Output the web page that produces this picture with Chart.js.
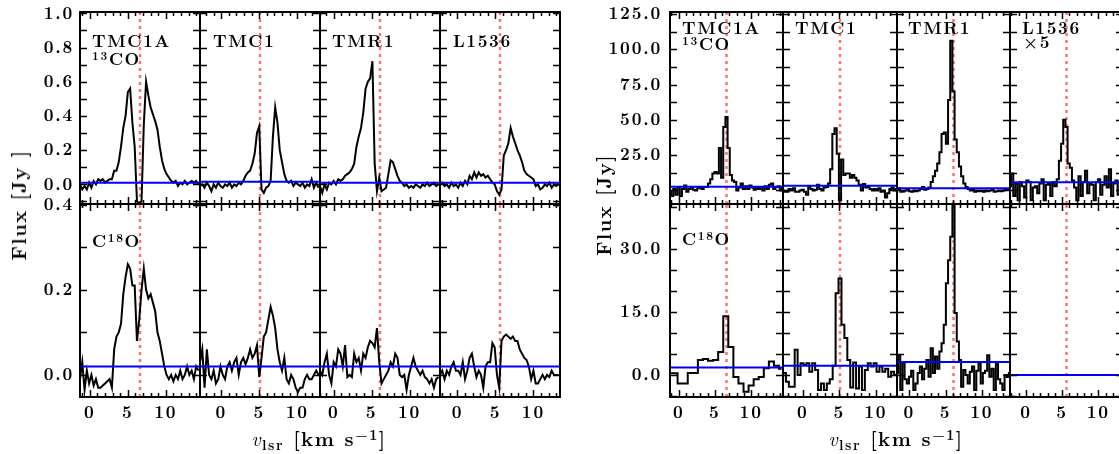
<!DOCTYPE html>
<html>
<head>
<meta charset="utf-8">
<script src="https://cdn.jsdelivr.net/npm/chart.js@4.4.1/dist/chart.umd.min.js"></script>
<style>
  html, body { margin: 0; padding: 0; background: #fff; overflow: hidden; }
  #wrap { position: relative; width: 1119px; height: 454px; overflow: hidden; background: #fff; }
  .cell { position: absolute; }
  .lbl { position: absolute; font-family: 'Latin Modern Roman', 'DejaVu Serif', serif; font-weight: bold; line-height: 1; color: #000; white-space: nowrap; }
  .lbl sup { font-size: 0.7em; line-height: 0; vertical-align: 0.45em; }
  .lbl sub { font-size: 0.7em; line-height: 0; vertical-align: -0.3em; }
  .lbl i { font-weight: normal; }
  .mark { display: inline-block; width: 0; height: 0; vertical-align: baseline; }
  .rot { transform: translate(-50%, -50%) rotate(-90deg); }
  .ctr { transform: translateX(-50%); }
</style>
</head>
<body>
<div id="wrap"></div>
<script>
// sources and systemic velocities (red dotted lines)
const sources = ['TMC1A', 'TMC1', 'TMR1', 'L1536'];
const vlsr = [6.6, 5.1, 6.1, 5.6];
const leftHalfRange = 7.9;
const rightHalfRange = 7.8;

// left panel, 13CO (Jy)
const left13CO_TMC1A = [0.00,-0.03,-0.01,-0.03,0.01,-0.02,0.02,0.00,0.03,0.02,0.03,0.01,0.02,0.03,
  0.03,0.08,0.08,0.13,0.22,0.33,0.40,0.54,0.56,0.36,0.22,-0.10,-0.11,-0.10,0.35,0.60,0.52,0.45,0.41,0.37,0.32,0.22,0.14,0.09,0.06,0.04,0.02,
  0.01,0.02,-0.01,0.01,0.00,0.02,0.00,0.01,0.02,0.01,0.02,0.00];
const left13CO_TMC1 = [-0.01,0.00,-0.02,0.01,-0.01,-0.04,0.00,-0.02,0.01,-0.01,
  -0.02,0.00,-0.01,0.01,-0.02,0.00,-0.01,0.01,0.00,0.02,
  0.05,0.07,0.08,0.12,0.18,0.30,0.34,-0.03,-0.05,-0.02,
  -0.01,0.02,0.28,0.45,0.36,0.20,0.13,0.06,0.02,0.01,
  0.02,-0.01,0.01,0.00,-0.01,0.01,-0.02,0.00,-0.01,0.03,
  -0.02,0.01,-0.02];
const left13CO_TMR1 = [-0.01,-0.05,0.00,-0.03,0.01,0.00,0.02,0.00,0.03,0.02,
  0.03,0.05,0.06,0.07,0.09,0.12,0.22,0.28,0.33,0.42,
  0.56,0.60,0.62,0.72,0.12,-0.04,0.04,-0.04,-0.03,-0.02,
  0.06,0.14,0.13,0.09,0.05,0.02,0.01,-0.01,0.00,-0.02,
  -0.01,-0.02,0.00,-0.01,-0.02,0.00,-0.01,0.01,-0.01,0.00,
  0.01,-0.01,0.00];
const left13CO_L1536 = [0.00,0.01,-0.01,0.00,-0.02,0.01,-0.01,0.00,-0.02,0.01,
  -0.01,0.02,0.00,0.05,0.03,0.07,0.04,0.07,0.05,0.06,
  0.04,0.05,0.03,0.01,0.00,-0.04,-0.06,-0.03,0.17,0.20,
  0.24,0.33,0.28,0.24,0.20,0.17,0.13,0.08,0.06,0.05,
  0.04,0.03,-0.01,0.00,-0.03,-0.02,0.00,-0.01,0.01,-0.02,
  0.00,-0.01,0.00];

// left panel, C18O (Jy)
const leftC18O_TMC1A = [-0.01,0.03,-0.035,0.01,-0.02,0.00,-0.025,-0.01,-0.03,-0.03,
  -0.025,-0.02,-0.015,-0.01,-0.03,0.06,0.09,0.10,0.12,0.19,
  0.23,0.26,0.25,0.21,0.21,0.08,0.13,0.20,0.25,0.20,
  0.18,0.19,0.17,0.15,0.10,0.08,0.05,0.02,0.00,-0.01,
  0.00,-0.015,0.00,-0.01,0.01,-0.01,0.00,0.02,0.00,0.01,
  -0.01,0.02,0.01];
const leftC18O_TMC1 = [0.03,0.06,-0.03,0.06,0.00,-0.01,0.01,-0.02,-0.01,0.02,
  0.00,-0.01,0.02,0.03,0.01,0.03,0.04,0.00,0.03,0.04,
  0.025,0.04,0.06,0.04,0.05,0.07,-0.005,0.04,0.09,0.10,
  0.13,0.16,0.14,0.11,0.06,0.03,0.01,0.04,-0.01,-0.02,
  0.00,-0.01,-0.03,-0.04,-0.03,-0.03,-0.01,0.00,-0.01,-0.01,
  0.00,0.01,0.00];
const leftC18O_TMR1 = [0.01,0.00,0.03,0.05,0.00,-0.02,0.03,0.02,0.06,0.05,
  0.02,0.07,-0.005,0.00,-0.005,0.05,0.03,0.04,0.01,0.05,
  0.04,0.065,0.08,0.075,0.065,0.11,0.03,-0.02,-0.01,0.00,
  0.01,0.03,0.02,0.05,0.04,0.00,-0.005,0.00,-0.035,0.00,
  0.02,0.04,0.02,0.01,0.00,0.01,-0.005,-0.01,-0.02,-0.01,
  -0.03,-0.01,-0.005];
const leftC18O_L1536 = [0.00,0.01,-0.01,0.01,0.00,0.02,0.03,0.01,0.01,0.00,
  0.03,-0.01,0.01,0.04,0.05,0.02,-0.005,0.01,0.00,-0.03,
  0.02,0.03,0.03,0.075,0.065,0.00,-0.03,0.08,0.09,0.095,
  0.09,0.085,0.09,0.08,0.08,0.06,0.05,0.04,0.035,0.02,
  -0.01,0.01,-0.02,-0.02,-0.01,0.00,-0.01,0.00,-0.005,0.01,
  0.00,0.00,0.00];

// right panel, 13CO (Jy)
const right13CO_TMC1A = [-1,-4,1,-3,2.5,-4,1,3.5,-1,1,
  2.5,0.5,0,1.5,2.5,1,2.5,2.5,5,8,
  12,13,12,30,9,45,52,30,11,7,
  6,0,2,5,1,3,1,3.5,2,0.5,
  2,1,2.5,0,3,1,4,5,1,2.5,
  3,0,2];
const right13CO_TMC1 = [0,-1,-1,1,0,1.5,-1,-1,0,0.5,
  -1,-3,2.5,1,0,0.5,4,1,0,2,
  2.5,5,15,40,44,26,-7,22,11,12,
  12,9,11,9,7,4,0,4.5,2,2.5,
  1,0,1,0,1.5,-1,0,-5,-2,1,
  2,0,1];
const right13CO_TMR1 = [1,1.5,-1,-0.8,0,0.5,-0.5,-1,0,-0.5,
  0,1,2.5,0.5,1,2,6,10,14,19,
  27,40,41,33,64,106,70,36,27,17,
  10,5,2.5,1,0,0.5,-1,0,-0.5,0,
  -1,0,-0.5,0,0.5,-1,-0.5,0,-0.5,0,
  0.5,1,0.5];
const right13CO_L1536 = [3,12,-4,5,-7,6,3,-5,7,6,
  -7,2,3,-2,5,8,-7,4,5,-4,
  6,3,8,21,33,50,45,19,16,7,
  2,-7,10,-4,6,14,-2,5,4,-7,
  6,8,-3,4,10,2,15,-4,5,7,
  -3,4,5];

// right panel, C18O (Jy)
const rightC18O_TMC1A = [0.4,0.4,-2,-2,0.5,0.5,3.6,3.8,3.4,3.6,
  5.5,14,6.7,-0.5,-2,-4,-2.5,-1,-0.5,1.6,
  3.2,2.2,1.5];
const rightC18O_TMC1 = [0.5,0.5,-1.6,-2.8,-2.8,6.0,0.0,2.8,2.4,2.8,
  0.8,2.8,1.2,-3.6,-2.0,-3.6,-2.0,-1.0,2.2,19.5,
  23,12,8.8,3.6,-3.0,3.0,-3.2,2.0,-3.6,1.2,
  2.8,2.0,2.8,0.8,2.0,0.8,1.5,-0.4,0.8,0.0,
  0.5];
const rightC18O_TMR1 = [0.5,4.7,-3.6,2.8,-1.0,-2.0,-0.4,1.0,-3.6,-2.0,
  0.5,2.0,-1.0,1.5,3.6,-0.4,6.4,0.5,4.4,1.5,
  5.6,7.6,12.0,21.9,27.4,33,44,14.8,8,3.6,
  -2.8,1.2,0.0,-2.0,0.8,2.0,-3.6,1.0,2.8,-2.0,
  0.5,1.0,4.7,-0.4,1.5,-3.6,2.8,-1.0,-2.0,-3.6,
  0.0,-0.5,0.5];
const rightC18O_L1536 = [];

// channel grids: first channel velocity and channel width (km/s)
const left13COv0 = [-1.3, -2.8, -1.8, -2.3];
const leftC18Ov0 = [-1.3, -2.8, -1.8, -2.3];
const leftDv = [0.3, 0.3, 0.3, 0.3];
const right13COv0 = [-1.2, -2.7, -1.7, -2.2];
const right13CODv = [0.3, 0.3, 0.3, 0.3];
const rightC18Ov0 = [-1.2, -2.9, -1.7, 0];
const rightC18ODv = [0.7, 0.4, 0.3, 0.3];

// fitted baselines (blue lines)
const leftBase13CO = [0.01, 0.015, 0.01, 0.01];
const leftBaseC18O = [0.02, 0.02, 0.02, 0.02];
const rightBase13CO = [2.7, 3.4, 1.5, 5.8];
const rightBaseC18O = [1.8, 2.2, 3.1, 0];

// axes
const xTickVals = [0, 5, 10];
const leftTopY = [-0.115, 1.008];
const leftBotY = [-0.052, 0.402];
const rightTopY = [-9.6, 126.4];
const rightBotY = [-5.25, 40.8];
const leftTopTicks = [0, 0.2, 0.4, 0.6, 0.8, 1.0];
const leftBotTicks = [0, 0.2, 0.4];
const rightTopTicks = [0, 25, 50, 75, 100, 125];
const rightBotTicks = [0, 15, 30];
const yMinorSteps = { leftTop: 0.1, leftBot: 0.1, rightTop: 12.5, rightBot: 5 };

const wrap = document.getElementById('wrap');
const FONT = "'Latin Modern Roman', 'DejaVu Serif', serif";

const framePlugin = {
  id: 'frame',
  beforeDraw(chart) {
    chart.ctx.letterSpacing = '1.8px';
  },
  afterDatasetsDraw(chart, args, opts) {
    const { ctx, chartArea: a, scales: { x, y } } = chart;
    ctx.save();
    ctx.strokeStyle = '#000';
    ctx.lineWidth = 1.5;
    ctx.beginPath();
    for (let v = Math.ceil(x.min); v <= x.max; v += 1) {
      const px = Math.round(x.getPixelForValue(v)) + 0.5;
      const len = xTickVals.includes(v) ? 7 : 4;
      ctx.moveTo(px, a.bottom); ctx.lineTo(px, a.bottom - len);
      ctx.moveTo(px, a.top); ctx.lineTo(px, a.top + len);
    }
    const st = opts.yMinor;
    for (let k = Math.ceil(y.min / st - 1e-6); k * st <= y.max + 1e-6; k++) {
      const py = Math.round(y.getPixelForValue(k * st)) + 0.5;
      ctx.moveTo(a.left, py); ctx.lineTo(a.left + 7, py);
      ctx.moveTo(a.right, py); ctx.lineTo(a.right - 7, py);
    }
    ctx.stroke();
    ctx.lineWidth = 2;
    ctx.strokeRect(a.left, a.top, a.right - a.left, a.bottom - a.top);
    ctx.restore();
  }
};

function channels(vals, v0, dv) {
  return vals.map((f, i) => ({ x: v0 + i * dv, y: f }));
}

function makeCell(c) {
  const pad = 24;
  const axL = c.yAxis ? c.yAxisW : 0;
  const axB = c.xAxis ? 40 : 0;
  const div = document.createElement('div');
  div.className = 'cell';
  div.style.left = (c.left - axL - pad) + 'px';
  div.style.top = (c.top - pad) + 'px';
  div.style.width = (c.width + axL + 2 * pad) + 'px';
  div.style.height = (c.height + axB + 2 * pad) + 'px';
  const cv = document.createElement('canvas');
  div.appendChild(cv);
  wrap.appendChild(div);

  const xmin = c.vsys - c.half, xmax = c.vsys + c.half;
  const tickFont = { family: FONT, weight: 'bold', size: 17 };
  new Chart(cv, {
    type: 'line',
    data: {
      datasets: [
        { data: [{ x: xmin, y: c.base }, { x: xmax, y: c.base }], borderColor: '#0000ff', borderWidth: 2, pointRadius: 0 },
        { data: channels(c.vals, c.v0, c.dv), borderColor: '#000', borderWidth: 2, pointRadius: 0, stepped: c.stepped ? 'middle' : false, tension: 0, clip: 0 },
        { data: [{ x: c.vsys, y: c.ymin }, { x: c.vsys, y: c.ymax }], borderColor: '#ff7070', borderWidth: 2.5, borderDash: [3, 4], pointRadius: 0 }
      ]
    },
    options: {
      responsive: true,
      maintainAspectRatio: false,
      animation: false,
      events: [],
      layout: { padding: pad },
      scales: {
        x: {
          type: 'linear', min: xmin, max: xmax, display: c.xAxis,
          grid: { display: false, drawTicks: false }, border: { display: false },
          afterBuildTicks: s => { s.ticks = xTickVals.map(v => ({ value: v })); },
          afterFit: s => { s.height = axB; },
          ticks: { autoSkip: false, maxRotation: 0, padding: 6, color: '#000', font: tickFont, callback: v => String(v) }
        },
        y: {
          type: 'linear', min: c.ymin, max: c.ymax, display: c.yAxis,
          grid: { display: false, drawTicks: false }, border: { display: false },
          afterBuildTicks: s => { s.ticks = c.yTicks.map(v => ({ value: v })); },
          afterFit: s => { s.width = axL; },
          ticks: { autoSkip: false, padding: c.yPad, color: '#000', font: tickFont, callback: v => v.toFixed(1) }
        }
      },
      plugins: { legend: { display: false }, tooltip: { enabled: false }, frame: { yMinor: c.yMinor } }
    },
    plugins: [framePlugin]
  });
}

const rows = [12, 204, 397];
const leftCols = [80, 200, 320, 440, 560];
const rightCols = [670, 783, 897, 1010, 1123];

const leftTopVals = [left13CO_TMC1A, left13CO_TMC1, left13CO_TMR1, left13CO_L1536];
const leftBotVals = [leftC18O_TMC1A, leftC18O_TMC1, leftC18O_TMR1, leftC18O_L1536];
const rightTopVals = [right13CO_TMC1A, right13CO_TMC1, right13CO_TMR1, right13CO_L1536];
const rightBotVals = [rightC18O_TMC1A, rightC18O_TMC1, rightC18O_TMR1, rightC18O_L1536];

for (let i = 0; i < 4; i++) {
  // left panel
  makeCell({ left: leftCols[i], top: rows[0], width: leftCols[i + 1] - leftCols[i], height: rows[1] - rows[0],
    yAxis: i === 0, yAxisW: 80, yPad: 6, xAxis: false, vsys: vlsr[i], half: leftHalfRange, stepped: false,
    vals: leftTopVals[i], v0: left13COv0[i], dv: leftDv[i], base: leftBase13CO[i],
    ymin: leftTopY[0], ymax: leftTopY[1], yTicks: leftTopTicks, yMinor: yMinorSteps.leftTop });
  makeCell({ left: leftCols[i], top: rows[1], width: leftCols[i + 1] - leftCols[i], height: rows[2] - rows[1],
    yAxis: i === 0, yAxisW: 80, yPad: 6, xAxis: true, vsys: vlsr[i], half: leftHalfRange, stepped: false,
    vals: leftBotVals[i], v0: leftC18Ov0[i], dv: leftDv[i], base: leftBaseC18O[i],
    ymin: leftBotY[0], ymax: leftBotY[1], yTicks: leftBotTicks, yMinor: yMinorSteps.leftBot });
  // right panel
  makeCell({ left: rightCols[i], top: rows[0], width: rightCols[i + 1] - rightCols[i], height: rows[1] - rows[0],
    yAxis: i === 0, yAxisW: 70, yPad: 8, xAxis: false, vsys: vlsr[i], half: rightHalfRange, stepped: true,
    vals: rightTopVals[i], v0: right13COv0[i], dv: right13CODv[i], base: rightBase13CO[i],
    ymin: rightTopY[0], ymax: rightTopY[1], yTicks: rightTopTicks, yMinor: yMinorSteps.rightTop });
  makeCell({ left: rightCols[i], top: rows[1], width: rightCols[i + 1] - rightCols[i], height: rows[2] - rows[1],
    yAxis: i === 0, yAxisW: 70, yPad: 8, xAxis: true, vsys: vlsr[i], half: rightHalfRange, stepped: true,
    vals: rightBotVals[i], v0: rightC18Ov0[i], dv: rightC18ODv[i], base: rightBaseC18O[i],
    ymin: rightBotY[0], ymax: rightBotY[1], yTicks: rightBotTicks, yMinor: yMinorSteps.rightBot });
}

// text labels, placed by their baseline
function addLabel(html, x, baseline, size, spacing, cls) {
  const d = document.createElement('div');
  d.className = 'lbl' + (cls ? ' ' + cls : '');
  d.style.fontSize = size + 'px';
  d.style.letterSpacing = spacing + 'px';
  d.style.left = x + 'px';
  d.style.top = '0px';
  d.innerHTML = html + (cls === 'rot' ? '' : '<span class="mark"></span>');
  wrap.appendChild(d);
  if (cls === 'rot') {
    d.style.top = baseline + 'px';
  } else {
    const m = d.querySelector('.mark');
    const off = m.getBoundingClientRect().top - d.getBoundingClientRect().top;
    d.style.top = (baseline - off) + 'px';
  }
}

const leftLabelX = [92, 213, 332, 453];
const rightLabelX = [682, 795, 908, 1022];
for (let i = 0; i < 4; i++) {
  addLabel(sources[i], leftLabelX[i], 47, 17, 1.6);
  addLabel(sources[i], rightLabelX[i], 34, 17, 1.6);
}
addLabel('<sup>13</sup>CO', 92, 65, 17, 1.6);
addLabel('<sup>13</sup>CO', 682, 50, 17, 1.6);
addLabel('\u00d75', 1023, 48, 17, 1.6);
addLabel('C<sup>18</sup>O', 92, 247, 17, 1.6);
addLabel('C<sup>18</sup>O', 682, 245, 17, 1.6);

addLabel('Flux [Jy ]', 18, 205, 20, 1.3, 'rot');
addLabel('Flux [Jy]', 603, 205, 20, 1.3, 'rot');
addLabel('<i>v</i><sub>lsr</sub> [km s<sup>\u22121</sup>]', 319, 446, 20, 1.5, 'ctr');
addLabel('<i>v</i><sub>lsr</sub> [km s<sup>\u22121</sup>]', 896, 446, 20, 1.5, 'ctr');
</script>
</body>
</html>
